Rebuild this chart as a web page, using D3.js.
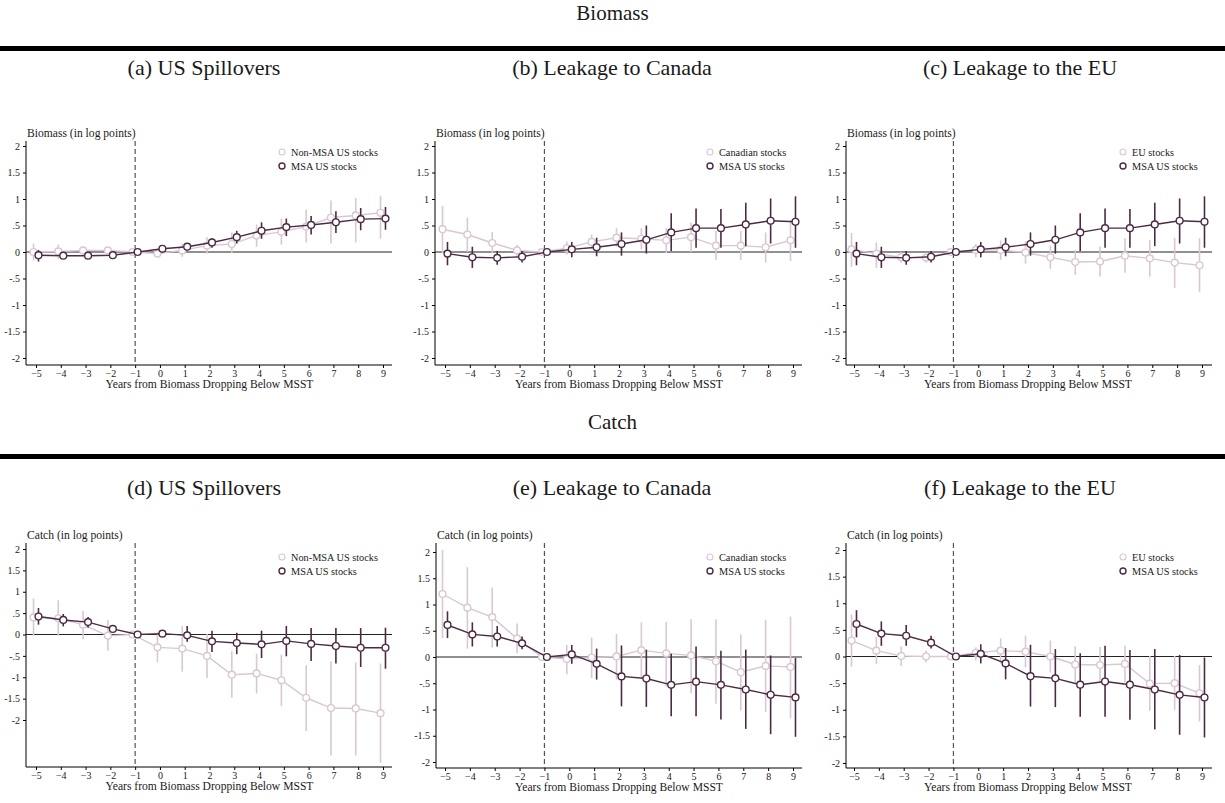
<!DOCTYPE html>
<html>
<head>
<meta charset="utf-8">
<script src="https://cdn.jsdelivr.net/npm/d3@7"></script>
<style>
  body { margin: 0; background: #fff; }
  svg text { font-family: "Liberation Serif", "DejaVu Serif", serif; fill: #1a1a1a; }
</style>
</head>
<body>
<svg id="chart" width="1225" height="803"></svg>
<script>
// Event-study coefficients (log points) by years relative to biomass dropping below MSST
const years = [-5, -4, -3, -2, -1, 0, 1, 2, 3, 4, 5, 6, 7, 8, 9];
const yTicks = [2, 1.5, 1, 0.5, 0, -0.5, -1, -1.5, -2];

// Biomass: non-MSA US stocks
const bioNonMsaEst = [0.00, 0.01, 0.03, 0.03, 0, -0.03, 0.03, 0.12, 0.15, 0.31, 0.38, 0.48, 0.65, 0.69, 0.74];
const bioNonMsaLo  = [-0.16, -0.13, -0.05, 0.00, 0, -0.08, -0.09, -0.03, -0.02, 0.10, 0.14, 0.18, 0.16, 0.18, 0.25];
const bioNonMsaHi  = [0.16, 0.14, 0.10, 0.08, 0, 0.03, 0.16, 0.28, 0.37, 0.52, 0.63, 0.80, 0.97, 1.02, 1.06];
// Biomass: MSA US stocks (relative to non-MSA US stocks)
const bioMsaUsEst = [-0.06, -0.07, -0.07, -0.06, 0, 0.06, 0.10, 0.18, 0.28, 0.40, 0.47, 0.51, 0.56, 0.62, 0.63];
const bioMsaUsLo  = [-0.18, -0.13, -0.13, -0.10, 0, 0.03, 0.03, 0.08, 0.16, 0.25, 0.30, 0.33, 0.36, 0.41, 0.42];
const bioMsaUsHi  = [0.04, -0.01, -0.01, -0.02, 0, 0.11, 0.17, 0.26, 0.40, 0.56, 0.63, 0.68, 0.77, 0.83, 0.85];
// Biomass: Canadian stocks
const bioCanEst = [0.43, 0.33, 0.17, 0.03, 0, 0.07, 0.19, 0.27, 0.25, 0.22, 0.28, 0.12, 0.12, 0.09, 0.22];
const bioCanLo  = [-0.02, 0.00, -0.02, -0.08, 0, -0.05, 0.05, 0.10, 0.05, -0.02, 0.00, -0.15, -0.15, -0.20, -0.17];
const bioCanHi  = [0.87, 0.65, 0.38, 0.13, 0, 0.20, 0.33, 0.45, 0.45, 0.45, 0.55, 0.40, 0.40, 0.37, 0.60];
// Biomass: MSA US stocks
const bioMsaEst = [-0.03, -0.10, -0.11, -0.09, 0, 0.05, 0.09, 0.15, 0.23, 0.37, 0.45, 0.45, 0.52, 0.59, 0.57];
const bioMsaLo  = [-0.25, -0.30, -0.24, -0.20, 0, -0.10, -0.08, -0.07, -0.03, 0.02, 0.08, 0.08, 0.11, 0.16, 0.08];
const bioMsaHi  = [0.19, 0.10, 0.02, 0.02, 0, 0.19, 0.27, 0.37, 0.50, 0.73, 0.82, 0.81, 0.93, 1.01, 1.05];
// Biomass: EU stocks
const bioEuEst = [0.05, -0.03, -0.10, -0.11, 0, 0.04, 0.04, -0.01, -0.10, -0.19, -0.18, -0.07, -0.12, -0.20, -0.25];
const bioEuLo  = [-0.28, -0.30, -0.20, -0.20, 0, -0.10, -0.15, -0.22, -0.32, -0.43, -0.46, -0.39, -0.46, -0.68, -0.75];
const bioEuHi  = [0.36, 0.18, 0.00, -0.01, 0, 0.15, 0.22, 0.20, 0.12, 0.04, 0.10, 0.26, 0.22, 0.27, 0.26];

// Catch: non-MSA US stocks
const catchNonMsaEst = [0.40, 0.38, 0.23, -0.03, 0, -0.30, -0.33, -0.50, -0.94, -0.91, -1.07, -1.48, -1.72, -1.73, -1.84];
const catchNonMsaLo  = [-0.03, -0.02, -0.11, -0.38, 0, -0.65, -0.87, -1.02, -1.48, -1.38, -1.67, -2.26, -2.83, -2.83, -3.00];
const catchNonMsaHi  = [0.84, 0.80, 0.55, 0.34, 0, 0.05, 0.20, 0.02, -0.39, -0.45, -0.47, -0.72, -0.63, -0.65, -0.68];
// Catch: MSA US stocks (relative to non-MSA US stocks)
const catchMsaUsEst = [0.42, 0.34, 0.29, 0.13, 0, 0.02, -0.02, -0.16, -0.20, -0.23, -0.15, -0.22, -0.27, -0.31, -0.31];
const catchMsaUsLo  = [0.23, 0.19, 0.16, 0.05, 0, -0.04, -0.17, -0.41, -0.46, -0.55, -0.51, -0.62, -0.68, -0.76, -0.80];
const catchMsaUsHi  = [0.62, 0.48, 0.41, 0.21, 0, 0.08, 0.20, 0.09, 0.04, 0.09, 0.20, 0.15, 0.15, 0.15, 0.16];
// Catch: Canadian stocks
const catchCanEst = [1.20, 0.94, 0.76, 0.35, 0, -0.04, -0.01, 0.01, 0.13, 0.07, 0.03, -0.08, -0.29, -0.17, -0.19];
const catchCanLo  = [0.36, 0.16, 0.18, 0.07, 0, -0.33, -0.40, -0.43, -0.40, -0.56, -0.69, -0.89, -1.02, -1.05, -1.17];
const catchCanHi  = [2.04, 1.71, 1.32, 0.64, 0, 0.23, 0.37, 0.44, 0.66, 0.67, 0.72, 0.72, 0.43, 0.71, 0.77];
// Catch: MSA US stocks
const catchMsaEst = [0.61, 0.43, 0.39, 0.26, 0, 0.05, -0.13, -0.37, -0.41, -0.53, -0.47, -0.53, -0.62, -0.72, -0.77];
const catchMsaLo  = [0.36, 0.20, 0.20, 0.15, 0, -0.13, -0.43, -0.94, -0.95, -1.13, -1.13, -1.19, -1.37, -1.47, -1.52];
const catchMsaHi  = [0.87, 0.66, 0.59, 0.39, 0, 0.23, 0.16, 0.22, 0.14, 0.06, 0.20, 0.12, 0.14, 0.03, -0.02];
// Catch: EU stocks
const catchEuEst = [0.30, 0.11, 0.01, 0.00, 0, 0.07, 0.11, 0.09, 0.00, -0.15, -0.16, -0.14, -0.51, -0.50, -0.69];
const catchEuLo  = [-0.19, -0.14, -0.18, -0.11, 0, -0.07, -0.13, -0.20, -0.30, -0.49, -0.50, -0.49, -1.02, -1.00, -1.22];
const catchEuHi  = [0.79, 0.37, 0.19, 0.11, 0, 0.17, 0.34, 0.39, 0.30, 0.19, 0.18, 0.20, 0.01, 0.01, -0.16];

const legendLabels = {
  nonMsa: "Non-MSA US stocks",
  can: "Canadian stocks",
  eu: "EU stocks",
  msa: "MSA US stocks"
};

const LIGHT = "#d8c8d2";
const DARK = "#4b2b43";

function series(est, lo, hi) {
  return years.map((x, i) => ({ x, est: est[i], lo: lo[i], hi: hi[i] }));
}

const panels = [
  { title: "(a) US Spillovers", ytitle: "Biomass (in log points)",
    light: series(bioNonMsaEst, bioNonMsaLo, bioNonMsaHi), dark: series(bioMsaUsEst, bioMsaUsLo, bioMsaUsHi),
    legend: [legendLabels.nonMsa, legendLabels.msa],
    ax: 26, xl: 36, xr: 383, xe: 392, yt: 141, yb: 365, yp2: 146, ym2: 358, lx: 282, ly: 152 },
  { title: "(b) Leakage to Canada", ytitle: "Biomass (in log points)",
    light: series(bioCanEst, bioCanLo, bioCanHi), dark: series(bioMsaEst, bioMsaLo, bioMsaHi),
    legend: [legendLabels.can, legendLabels.msa],
    ax: 435, xl: 445, xr: 793, xe: 802, yt: 141, yb: 365, yp2: 146, ym2: 358, lx: 710, ly: 152 },
  { title: "(c) Leakage to the EU", ytitle: "Biomass (in log points)",
    light: series(bioEuEst, bioEuLo, bioEuHi), dark: series(bioMsaEst, bioMsaLo, bioMsaHi),
    legend: [legendLabels.eu, legendLabels.msa],
    ax: 846, xl: 854, xr: 1202, xe: 1212, yt: 141, yb: 365, yp2: 146, ym2: 358, lx: 1123, ly: 152 },
  { title: "(d) US Spillovers", ytitle: "Catch (in log points)",
    light: series(catchNonMsaEst, catchNonMsaLo, catchNonMsaHi), dark: series(catchMsaUsEst, catchMsaUsLo, catchMsaUsHi),
    legend: [legendLabels.nonMsa, legendLabels.msa],
    ax: 26, xl: 36, xr: 383, xe: 392, yt: 543, yb: 767, yp2: 549, ym2: 720, lx: 282, ly: 557 },
  { title: "(e) Leakage to Canada", ytitle: "Catch (in log points)",
    light: series(catchCanEst, catchCanLo, catchCanHi), dark: series(catchMsaEst, catchMsaLo, catchMsaHi),
    legend: [legendLabels.can, legendLabels.msa],
    ax: 436, xl: 445, xr: 793, xe: 802, yt: 543, yb: 768, yp2: 552, ym2: 762, lx: 710, ly: 557 },
  { title: "(f) Leakage to the EU", ytitle: "Catch (in log points)",
    light: series(catchEuEst, catchEuLo, catchEuHi), dark: series(catchMsaEst, catchMsaLo, catchMsaHi),
    legend: [legendLabels.eu, legendLabels.msa],
    ax: 846, xl: 854, xr: 1202, xe: 1212, yt: 543, yb: 768, yp2: 550, ym2: 763, lx: 1123, ly: 557 }
];

const svg = d3.select("#chart");
const W = 1225;

// Section headings with heavy rules
function section(label, ty, ry) {
  svg.append("text").attr("x", W / 2).attr("y", ty).attr("text-anchor", "middle")
    .attr("font-size", 21).text(label);
  svg.append("rect").attr("x", 0).attr("y", ry).attr("width", W).attr("height", 5).attr("fill", "#000");
}
section("Biomass", 20, 46);
section("Catch", 429, 454);

const subtitleY = [75, 495];
const fmt = v => String(v).replace("0.", ".");

panels.forEach((p, i) => {
  const row = Math.floor(i / 3);
  const g = svg.append("g");
  const x = d3.scaleLinear().domain([-5, 9]).range([p.xl, p.xr]);
  const y = d3.scaleLinear().domain([-2, 2]).range([p.ym2, p.yp2]);
  const cx = (p.xl + p.xr) / 2;

  // Panel subtitle
  svg.append("text").attr("x", [204, 612, 1020][i % 3]).attr("y", subtitleY[row])
    .attr("text-anchor", "middle").attr("font-size", 22).text(p.title);

  // Y axis
  const ya = g.append("g").attr("transform", `translate(${p.ax},0)`)
    .call(d3.axisLeft(y).tickValues(yTicks).tickFormat(fmt).tickSize(3).tickPadding(3));
  ya.select(".domain").remove();
  ya.selectAll("text").attr("font-size", 10).style("font-family", "Liberation Serif");
  g.append("line").attr("x1", p.ax).attr("x2", p.ax).attr("y1", p.yt).attr("y2", p.yb)
    .attr("stroke", "#000").attr("stroke-width", 1);

  // X axis
  const xa = g.append("g").attr("transform", `translate(0,${p.yb})`)
    .call(d3.axisBottom(x).tickValues(years).tickSize(3).tickPadding(2));
  xa.select(".domain").remove();
  xa.selectAll("text").attr("font-size", 10).style("font-family", "Liberation Serif");
  g.append("line").attr("x1", p.ax).attr("x2", p.xe).attr("y1", p.yb).attr("y2", p.yb)
    .attr("stroke", "#000").attr("stroke-width", 1);

  g.append("text").attr("x", cx).attr("y", p.yb + 23).attr("text-anchor", "middle")
    .attr("font-size", 11.6).text("Years from Biomass Dropping Below MSST");
  g.append("text").attr("x", p.ax + 1).attr("y", p.yt - 4).attr("font-size", 11.6).text(p.ytitle);

  // Reference lines: zero and treatment year
  g.append("line").attr("x1", p.ax).attr("x2", p.xe).attr("y1", y(0)).attr("y2", y(0))
    .attr("stroke", "#222").attr("stroke-width", 1.1);
  g.append("line").attr("x1", x(-1)).attr("x2", x(-1)).attr("y1", p.yt).attr("y2", p.yb)
    .attr("stroke", "#555").attr("stroke-width", 1.2).attr("stroke-dasharray", "5,3");

  // Coefficients with confidence intervals
  function drawSeries(data, color, dx) {
    const s = g.append("g");
    s.selectAll("line.ci").data(data.filter(d => d.hi !== d.lo)).join("line")
      .attr("class", "ci")
      .attr("x1", d => x(d.x + dx)).attr("x2", d => x(d.x + dx))
      .attr("y1", d => y(d.lo)).attr("y2", d => y(d.hi))
      .attr("stroke", color).attr("stroke-width", 1.6);
    s.append("path").datum(data)
      .attr("d", d3.line().x(d => x(d.x + dx)).y(d => y(d.est)))
      .attr("fill", "none").attr("stroke", color).attr("stroke-width", 1.4);
    s.selectAll("circle").data(data).join("circle")
      .attr("cx", d => x(d.x + dx)).attr("cy", d => y(d.est)).attr("r", 3.4)
      .attr("fill", "#fff").attr("stroke", color).attr("stroke-width", 1.4);
  }
  drawSeries(p.light, LIGHT, -0.1);
  drawSeries(p.dark, DARK, 0.1);

  // Legend
  const lg = g.append("g");
  [[LIGHT, p.legend[0]], [DARK, p.legend[1]]].forEach(([c, t], k) => {
    lg.append("circle").attr("cx", p.lx).attr("cy", p.ly + k * 14).attr("r", 3)
      .attr("fill", "#fff").attr("stroke", c).attr("stroke-width", k ? 1.4 : 1.1);
    lg.append("text").attr("x", p.lx + 9).attr("y", p.ly + k * 14 + 3.5)
      .attr("font-size", 10.3).text(t);
  });
});
</script>
</body>
</html>
